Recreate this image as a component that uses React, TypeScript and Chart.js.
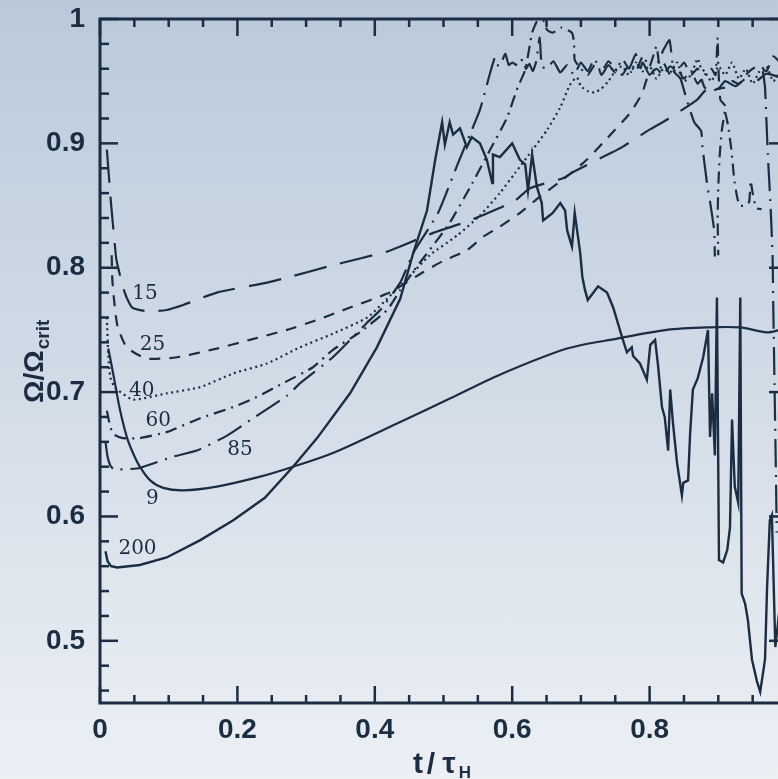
import React, { useEffect, useRef } from "react";
import { Chart, registerables } from "chart.js";

Chart.register(...registerables);

const INK = "#1b2d42";
const SANS = "'Liberation Sans', Arial, sans-serif";
const SERIF = "'DejaVu Serif', serif";

const X_TICKS = [0, 0.2, 0.4, 0.6, 0.8, 1];
const X_TICK_LABELS = ["0", "0.2", "0.4", "0.6", "0.8", ""];
const Y_TICKS = [0.5, 0.6, 0.7, 0.8, 0.9, 1];
const Y_TICK_LABELS = ["0.5", "0.6", "0.7", "0.8", "0.9", "1"];

type P = [number, number | null];

const M9: P[] = [
  [0.012, 0.735], [0.0146, 0.728], [0.0218, 0.707], [0.029, 0.686], [0.039, 0.664], [0.048, 0.651],
  [0.058, 0.64], [0.073, 0.629], [0.092, 0.623], [0.121, 0.621], [0.17, 0.624], [0.233, 0.632],
  [0.281, 0.64], [0.339, 0.651], [0.437, 0.676], [0.51, 0.695], [0.582, 0.714], [0.68, 0.735],
  [0.753, 0.743], [0.825, 0.75], [0.884, 0.752], [0.932, 0.752], [0.971, 0.748], [0.99, 0.75],
];

const M15: P[] = [
  [0.01, 0.895], [0.016, 0.852], [0.021, 0.822], [0.024, 0.806], [0.036, 0.78], [0.047, 0.768],
  [0.07, 0.765], [0.097, 0.766], [0.121, 0.77], [0.17, 0.78], [0.243, 0.788], [0.272, 0.792],
  [0.339, 0.802], [0.418, 0.813], [0.437, 0.817], [0.485, 0.828], [0.534, 0.837], [0.556, 0.842],
  [0.604, 0.854], [0.626, 0.864], [0.674, 0.872], [0.689, 0.877], [0.739, 0.891], [0.76, 0.897],
  [0.8, 0.911], [0.825, 0.919], [0.869, 0.935], [0.88, 0.942], [0.89, 0.946], [0.9, 0.944],
  [0.91, 0.95], [0.925, 0.946], [0.94, 0.952], [0.955, 0.95], [0.97, 0.956], [0.99, 0.953],
];

const M25: P[] = [
  [0.017, 0.81], [0.018, 0.79], [0.022, 0.766], [0.026, 0.752], [0.039, 0.736], [0.068, 0.727],
  [0.112, 0.728], [0.17, 0.735], [0.218, 0.742], [0.272, 0.75], [0.316, 0.758], [0.364, 0.768],
  [0.422, 0.78], [0.437, 0.785], [0.469, 0.796], [0.498, 0.805], [0.534, 0.814], [0.558, 0.825],
  [0.582, 0.833], [0.611, 0.844], [0.64, 0.857], [0.674, 0.871], [0.709, 0.887], [0.738, 0.904],
  [0.771, 0.924], [0.789, 0.94], [0.797, 0.953], [0.81, 0.96], [0.82, 0.955], [0.83, 0.962],
  [0.84, 0.958], [0.85, 0.965], [0.86, 0.955], [0.87, 0.96], [0.88, 0.945], [0.89, 0.942],
  [0.9, 0.944], [0.91, 0.945], [0.92, 0.95], [0.93, 0.948], [0.94, 0.955], [0.95, 0.96],
  [0.96, 0.962], [0.97, 0.958], [0.98, 0.97], [0.99, 0.965],
];

const M40: P[] = [
  [0.01, 0.76], [0.012, 0.73], [0.015, 0.712], [0.02, 0.705], [0.025, 0.702], [0.048, 0.694],
  [0.097, 0.699], [0.146, 0.704], [0.194, 0.715], [0.243, 0.723], [0.291, 0.736], [0.339, 0.747],
  [0.389, 0.76], [0.427, 0.78], [0.44, 0.787], [0.48, 0.81], [0.52, 0.826], [0.553, 0.842],
  [0.582, 0.86], [0.604, 0.876], [0.63, 0.895], [0.651, 0.911], [0.67, 0.929], [0.684, 0.947],
  [0.694, 0.953], [0.7, 0.946], [0.71, 0.942], [0.72, 0.941], [0.73, 0.944], [0.74, 0.95],
  [0.75, 0.958], [0.76, 0.962], [0.77, 0.955], [0.78, 0.965], [0.79, 0.958], [0.8, 0.962],
  [0.81, 0.952], [0.82, 0.96], [0.83, 0.957], [0.84, 0.965], [0.85, 0.95], [0.86, 0.955],
  [0.87, 0.968], [0.875, 0.96], [0.88, 0.958], [0.89, 0.95], [0.9, 0.962], [0.91, 0.955],
  [0.92, 0.965], [0.93, 0.952], [0.94, 0.96], [0.95, 0.948], [0.96, 0.958], [0.97, 0.962],
  [0.98, 0.95], [0.99, 0.958],
];

const M60: P[] = [
  [0.01, 0.685], [0.015, 0.672], [0.02, 0.666], [0.033, 0.663], [0.058, 0.663], [0.098, 0.668],
  [0.146, 0.679], [0.194, 0.688], [0.228, 0.696], [0.266, 0.707], [0.31, 0.72], [0.339, 0.734],
  [0.378, 0.748], [0.418, 0.766], [0.437, 0.782], [0.46, 0.8], [0.485, 0.818], [0.509, 0.836],
  [0.539, 0.865], [0.568, 0.895], [0.592, 0.92], [0.608, 0.945], [0.619, 0.959], [0.629, 0.989],
  [0.636, 0.998], [0.645, 0.999], [0.651, 0.991], [0.659, 0.989], [0.672, 0.993], [0.687, 0.989],
  [0.69, 0.981], [0.691, 0.967], [0.7, 0.96], [0.71, 0.955], [0.72, 0.963], [0.73, 0.958],
  [0.74, 0.966], [0.75, 0.96], [0.76, 0.955], [0.77, 0.963], [0.78, 0.958], [0.79, 0.97],
  [0.8, 0.962], [0.81, 0.978], [0.815, 0.96], [0.82, 0.965], [0.83, 0.955], [0.84, 0.96],
  [0.85, 0.952], [0.86, 0.958], [0.87, 0.948], [0.88, 0.955], [0.89, 0.96], [0.896, 0.955],
  [0.899, 0.985], [0.9, 0.962], [0.903, 0.935], [0.91, 0.93], [0.905, 0.91], [0.902, 0.89],
  [0.9, 0.865], [0.899, 0.84], [0.9, 0.81], [0.905, null], [0.91, 0.925], [0.914, 0.915],
  [0.919, 0.895], [0.923, 0.872], [0.927, 0.858], [0.931, 0.85], [0.94, 0.85], [0.945, 0.853],
  [0.947, 0.87], [0.95, 0.86], [0.955, 0.848], [0.963, 0.847],
];

const M85: P[] = [
  [0.008, 0.66], [0.011, 0.648], [0.015, 0.641], [0.02, 0.638], [0.04, 0.638], [0.058, 0.639],
  [0.106, 0.648], [0.141, 0.653], [0.185, 0.665], [0.223, 0.679], [0.272, 0.697], [0.291, 0.707],
  [0.339, 0.728], [0.368, 0.744], [0.389, 0.756], [0.408, 0.766], [0.437, 0.788], [0.456, 0.812],
  [0.492, 0.844], [0.524, 0.888], [0.553, 0.927], [0.568, 0.957], [0.575, 0.969], [0.58, 0.962],
  [0.585, 0.966], [0.59, 0.972], [0.595, 0.963], [0.6, 0.965], [0.61, 0.962], [0.615, 0.968],
  [0.62, 0.96], [0.625, 0.964], [0.63, 0.958], [0.635, 0.966], [0.64, 0.985], [0.643, 0.962],
  [0.65, 0.96], [0.66, 0.966], [0.67, 0.957], [0.68, 0.963], [0.69, 0.955], [0.7, 0.965],
  [0.71, 0.958], [0.72, 0.968], [0.73, 0.955], [0.74, 0.963], [0.75, 0.957], [0.76, 0.968],
  [0.77, 0.96], [0.78, 0.972], [0.785, 0.958], [0.79, 0.965], [0.8, 0.955], [0.81, 0.962],
  [0.82, 0.975], [0.829, 0.983], [0.835, 0.958], [0.845, 0.952], [0.854, 0.935], [0.865, 0.917],
  [0.875, 0.91], [0.877, 0.897], [0.884, 0.866], [0.888, 0.853], [0.894, 0.83], [0.895, 0.809],
  [0.93, null], [0.965, 0.958], [0.968, 0.945], [0.972, 0.892], [0.976, 0.85], [0.979, 0.81],
  [0.98, 0.77], [0.982, 0.7], [0.984, 0.63], [0.985, 0.587],
];

const M200: P[] = [
  [0.008, 0.572], [0.011, 0.564], [0.016, 0.56], [0.025, 0.559], [0.058, 0.561], [0.097, 0.567],
  [0.146, 0.581], [0.194, 0.597], [0.24, 0.615], [0.281, 0.64], [0.316, 0.663], [0.364, 0.699],
  [0.403, 0.736], [0.437, 0.775], [0.456, 0.812], [0.476, 0.846], [0.488, 0.887], [0.498, 0.917],
  [0.502, 0.899], [0.509, 0.917], [0.514, 0.907], [0.524, 0.912], [0.534, 0.897], [0.541, 0.905],
  [0.553, 0.9], [0.563, 0.887], [0.571, 0.868], [0.572, 0.891], [0.582, 0.889], [0.6, 0.9],
  [0.611, 0.887], [0.619, 0.883], [0.623, 0.862], [0.629, 0.891], [0.636, 0.865], [0.643, 0.852],
  [0.645, 0.838], [0.652, 0.841], [0.659, 0.844], [0.67, 0.852], [0.677, 0.846], [0.68, 0.83],
  [0.687, 0.817], [0.691, 0.844], [0.699, 0.812], [0.702, 0.793], [0.706, 0.782], [0.71, 0.774],
  [0.725, 0.785], [0.738, 0.78], [0.747, 0.768], [0.76, 0.744], [0.767, 0.732], [0.774, 0.736],
  [0.776, 0.729], [0.786, 0.723], [0.796, 0.71], [0.801, 0.738], [0.808, 0.742], [0.812, 0.723],
  [0.818, 0.688], [0.822, 0.68], [0.827, 0.653], [0.83, 0.702], [0.834, 0.675], [0.84, 0.643],
  [0.847, 0.617], [0.849, 0.627], [0.856, 0.629], [0.859, 0.667], [0.863, 0.702], [0.87, 0.711],
  [0.878, 0.728], [0.885, 0.75], [0.888, 0.664], [0.891, 0.699], [0.895, 0.649], [0.898, 0.776],
  [0.901, 0.565], [0.907, 0.563], [0.913, 0.573], [0.917, 0.591], [0.92, 0.678], [0.924, 0.624],
  [0.929, 0.611], [0.932, 0.776], [0.934, 0.538], [0.939, 0.53], [0.943, 0.517], [0.949, 0.485],
  [0.956, 0.468], [0.961, 0.459], [0.968, 0.485], [0.971, 0.543], [0.975, 0.597], [0.978, 0.601],
  [0.983, 0.495], [0.99, 0.53],
];

const CURVE_NAMES = ["15", "25", "40", "60", "85", "9", "200"];
const CURVE_LABEL_X = [0.0655, 0.0764, 0.0607, 0.0849, 0.2038, 0.0764, 0.0546];
const CURVE_LABEL_Y = [0.779, 0.738, 0.701, 0.677, 0.654, 0.614, 0.574];

const SERIES = [
  { name: "9", data: M9, dash: [] as number[], width: 2.2, tension: 0.3 },
  { name: "15", data: M15, dash: [33, 14], width: 2.2, tension: 0.2 },
  { name: "25", data: M25, dash: [11, 9], width: 2.2, tension: 0.2 },
  { name: "40", data: M40, dash: [2, 3.5], width: 2.2, tension: 0.2 },
  { name: "60", data: M60, dash: [12, 6, 2, 6], width: 2.2, tension: 0.15 },
  { name: "85", data: M85, dash: [28, 8, 2, 8], width: 2.2, tension: 0.15 },
  { name: "200", data: M200, dash: [] as number[], width: 2.4, tension: 0 },
];

const framePlugin = {
  id: "frame",
  afterDatasetsDraw(chart: any) {
    const { ctx, chartArea: a, scales } = chart;
    const x = scales.x;
    const y = scales.y;
    ctx.save();
    ctx.strokeStyle = INK;
    ctx.lineCap = "butt";
    ctx.lineWidth = 2.5;
    const seg = (x1: number, y1: number, x2: number, y2: number) => {
      ctx.beginPath();
      ctx.moveTo(x1, y1);
      ctx.lineTo(x2, y2);
      ctx.stroke();
    };
    for (let i = 0; i <= 20; i++) {
      const px = x.getPixelForValue(i * 0.05);
      const L = i % 4 === 0 ? 17 : 8;
      seg(px, a.bottom, px, a.bottom - L);
      seg(px, a.top, px, a.top + L);
    }
    for (let i = 23; i <= 50; i++) {
      const py = y.getPixelForValue(i * 0.02);
      const L = i % 5 === 0 ? 18 : 9;
      seg(a.left, py, a.left + L, py);
      seg(a.right, py, a.right - L, py);
    }
    ctx.lineWidth = 3;
    ctx.strokeRect(a.left, a.top, a.right - a.left, a.bottom - a.top);
    ctx.restore();
  },
};

const textPlugin = {
  id: "texts",
  afterDraw(chart: any) {
    const { ctx, scales } = chart;
    const x = scales.x;
    const y = scales.y;
    ctx.save();
    ctx.fillStyle = INK;
    ctx.font = `20px ${SERIF}`;
    ctx.textAlign = "center";
    ctx.textBaseline = "middle";
    CURVE_NAMES.forEach((n, i) => {
      ctx.fillText(n, x.getPixelForValue(CURVE_LABEL_X[i]), y.getPixelForValue(CURVE_LABEL_Y[i]));
    });

    // y title
    ctx.save();
    ctx.translate(43, 403);
    ctx.rotate(-Math.PI / 2);
    ctx.textAlign = "left";
    ctx.textBaseline = "alphabetic";
    ctx.font = `bold 28px ${SANS}`;
    ctx.fillText("Ω/Ω", 0, 0);
    const w = ctx.measureText("Ω/Ω").width;
    ctx.font = `bold 19px ${SANS}`;
    ctx.fillText("crit", w + 1, 6);
    ctx.restore();

    // x title
    ctx.textAlign = "center";
    ctx.textBaseline = "alphabetic";
    ctx.font = `bold 30px ${SANS}`;
    ctx.fillText("t", 418, 773);
    ctx.fillText("/", 431, 774);
    ctx.fillText("τ", 449, 773);
    ctx.font = `bold 17px ${SANS}`;
    ctx.fillText("H", 465, 778);
    ctx.restore();
  },
};

export default function App() {
  const ref = useRef<HTMLCanvasElement | null>(null);
  useEffect(() => {
    if (!ref.current) return;
    const chart = new Chart(ref.current, {
      type: "line",
      data: {
        datasets: SERIES.map((s) => ({
          label: s.name,
          data: s.data.map(([px, py]) => ({ x: px, y: py })),
          borderColor: INK,
          backgroundColor: INK,
          borderWidth: s.width,
          borderDash: s.dash,
          tension: s.tension,
          pointRadius: 0,
          spanGaps: false,
          fill: false,
        })),
      } as any,
      options: {
        animation: false,
        responsive: false,
        maintainAspectRatio: false,
        devicePixelRatio: 1,
        layout: { padding: { top: 19, right: 13, left: 0, bottom: 0 } },
        plugins: { legend: { display: false }, tooltip: { enabled: false } },
        elements: { point: { radius: 0 } },
        scales: {
          x: {
            type: "linear",
            min: 0,
            max: 1,
            grid: { display: false, drawTicks: false },
            border: { display: false },
            afterFit: (s: any) => {
              s.height = 76;
              s.paddingLeft = 0;
              s.paddingRight = 0;
              s.paddingTop = 0;
              s.paddingBottom = 0;
            },
            afterBuildTicks: (s: any) => {
              s.ticks = X_TICKS.map((v) => ({ value: v }));
            },
            ticks: {
              callback: (v: any) => X_TICK_LABELS[X_TICKS.indexOf(Number(v))] ?? "",
              padding: 10,
              color: INK,
              font: { family: SANS, weight: "bold", size: 28 },
              maxRotation: 0,
              autoSkip: false,
            },
          },
          y: {
            type: "linear",
            min: 0.45,
            max: 1,
            grid: { display: false, drawTicks: false },
            border: { display: false },
            afterFit: (s: any) => {
              s.width = 100;
              s.paddingTop = 0;
              s.paddingBottom = 0;
              s.paddingLeft = 0;
              s.paddingRight = 0;
            },
            afterBuildTicks: (s: any) => {
              s.ticks = Y_TICKS.map((v) => ({ value: v }));
            },
            ticks: {
              callback: (v: any) => Y_TICK_LABELS[Y_TICKS.indexOf(Number(v))] ?? "",
              padding: 15,
              color: INK,
              font: { family: SANS, weight: "bold", size: 28 },
              autoSkip: false,
            },
          },
        },
      } as any,
      plugins: [framePlugin, textPlugin],
    });
    return () => chart.destroy();
  }, []);

  return (
    <div
      style={{
        position: "fixed",
        left: 0,
        top: 0,
        width: 778,
        height: 779,
        overflow: "hidden",
        background: "linear-gradient(to bottom, #bac9da 0%, #d2dce7 50%, #ecf0f5 100%)",
      }}
    >
      <canvas ref={ref} width={800} height={779} style={{ display: "block" }} />
    </div>
  );
}
